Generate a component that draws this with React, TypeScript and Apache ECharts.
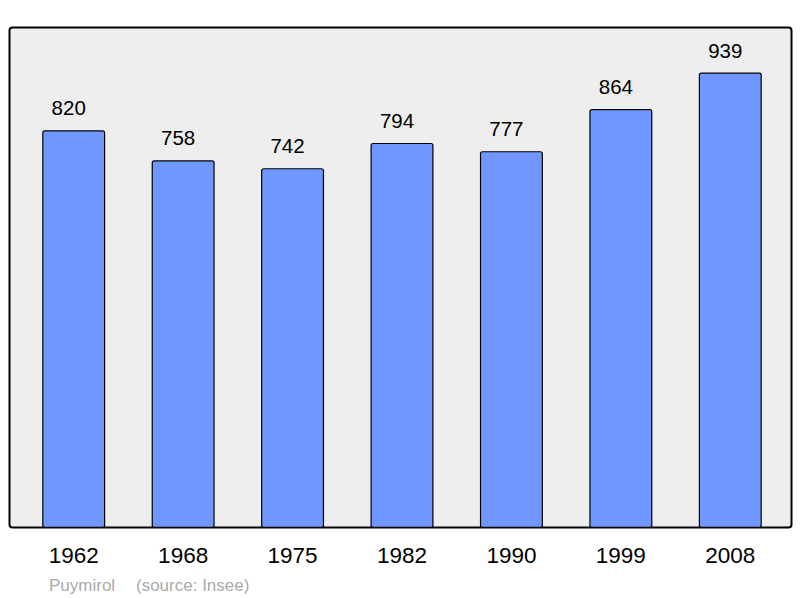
import React, { useEffect, useRef } from "react";
import * as echarts from "echarts";

const years = ["1962", "1968", "1975", "1982", "1990", "1999", "2008"];
const population = [820, 758, 742, 794, 777, 864, 939];
const footerName = "Puymirol";
const footerSource = "(source: Insee)";

export default function App() {
  const ref = useRef<HTMLDivElement>(null);
  useEffect(() => {
    document.body.style.margin = "0";
    const chart = echarts.init(ref.current!, null, { renderer: "svg" });
    chart.setOption({
      animation: false,
      textStyle: { fontFamily: "Liberation Sans, Arial, sans-serif" },
      graphic: [
        {
          type: "rect",
          shape: { x: 9.5, y: 27.5, width: 782, height: 500, r: 3 },
          style: { fill: "#eeeeee", stroke: "#000", lineWidth: 2 },
          z: -10,
          silent: true,
        },
        {
          type: "text",
          left: 49,
          top: 577,
          style: {
            text: footerName,
            fill: "#aaaaaa",
            font: "17px Liberation Sans, Arial, sans-serif",
          },
        },
        {
          type: "text",
          left: 136,
          top: 577,
          style: {
            text: footerSource,
            fill: "#aaaaaa",
            font: "17px Liberation Sans, Arial, sans-serif",
          },
        },
      ],
      grid: { left: 19, right: 15, top: 27, bottom: 70 },
      xAxis: {
        type: "category",
        data: years,
        axisLine: { show: false },
        axisTick: { show: false },
        axisLabel: { color: "#000", fontSize: 22.5, margin: 16 },
      },
      yAxis: {
        type: "value",
        min: 0,
        max: 1033,
        show: false,
        splitLine: { show: false },
      },
      series: [
        {
          type: "bar",
          data: population,
          barWidth: 63,
          itemStyle: {
            color: "#7097ff",
            borderColor: "#000",
            borderWidth: 1.2,
            borderRadius: 2,
          },
          label: {
            show: true,
            position: "top",
            distance: 12,
            offset: [-5, 0],
            color: "#000",
            fontSize: 20.5,
          },
        },
      ],
    });
    return () => chart.dispose();
  }, []);
  return <div ref={ref} style={{ width: 800, height: 598 }} />;
}
